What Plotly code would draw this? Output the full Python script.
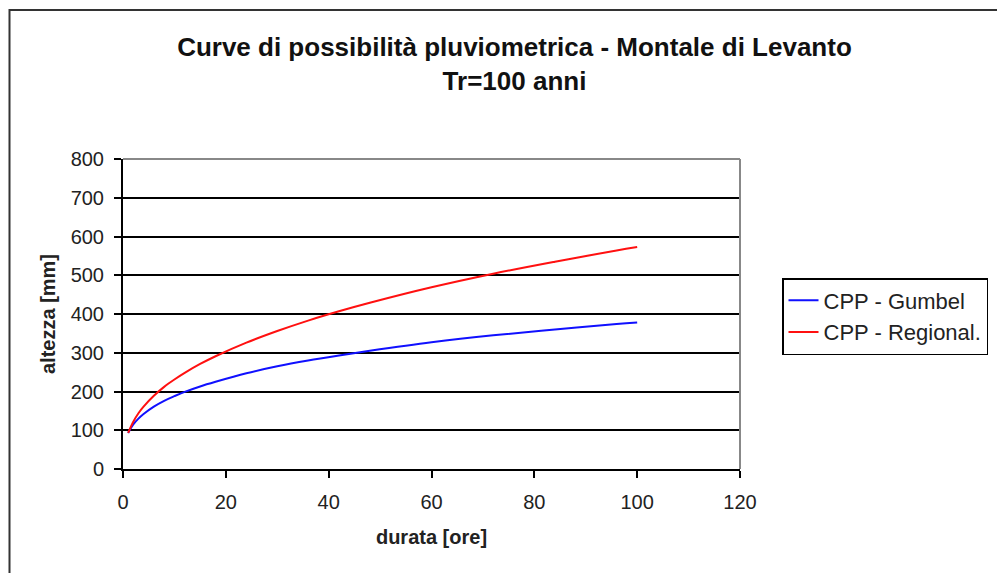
import plotly.graph_objects as go

# durations (hours)
durata = [1, 2, 3, 4, 6, 8, 10, 12, 15, 18, 24, 30, 36, 42, 48, 60, 72, 84, 96, 100]
# heights (mm)
gumbel = [93, 115, 130, 142, 161, 176, 188, 199, 213, 225, 247, 265, 280, 293, 305, 327, 345, 360, 374, 378]
regional = [93, 122, 144, 161, 189, 212, 231, 248, 271, 291, 326, 356, 383, 407, 429, 469, 504, 535, 564, 573]

series_names = ["CPP - Gumbel", "CPP - Regional."]
series_colors = ["#1010ff", "#ff1010"]

x_ticks = [0, 20, 40, 60, 80, 100, 120]
y_ticks = [0, 100, 200, 300, 400, 500, 600, 700, 800]

FONT = "Liberation Sans, Arial, sans-serif"

fig = go.Figure()
for name, vals, col in zip(series_names, [gumbel, regional], series_colors):
    fig.add_trace(go.Scatter(x=durata, y=vals, mode="lines", name=name,
                             line=dict(color=col, width=2, shape="spline")))

# page has an 8px body margin; figure sized to fit the window
W, H = 997, 565
L, T = 115, 151
R = W - 732
B = H - 461
pw, ph = W - L - R, H - T - B

def px_x(p):
    return (p - L) / pw

def px_y(p):
    return (H - B - p) / ph

fig.update_layout(
    width=W, height=H,
    margin=dict(l=L, r=R, t=T, b=B),
    paper_bgcolor="white", plot_bgcolor="white",
    font=dict(family=FONT, color="#222222", size=20),
    title=dict(text="Curve di possibilità pluviometrica - Montale di Levanto<br>Tr=100 anni",
               x=0.508, xref="container", xanchor="center",
               y=1 - 48 / H, yref="container", yanchor="top",
               font=dict(size=26, color="#111111", family=FONT, weight="bold")),
    xaxis=dict(range=[0, 120], tickvals=x_ticks, showgrid=False, zeroline=False,
               showline=True, linecolor="black", linewidth=2,
               ticks="outside", ticklen=7, tickcolor="black", tickwidth=2,
               ticklabelstandoff=7,
               tickfont=dict(size=20),
               title=dict(text="<b>durata [ore]</b>", font=dict(size=20), standoff=18)),
    yaxis=dict(range=[0, 800], tickvals=y_ticks, showgrid=True, gridcolor="black", gridwidth=2,
               zeroline=False, showline=True, linecolor="black", linewidth=2,
               ticks="outside", ticklen=7, tickcolor="black", tickwidth=2,
               ticklabelstandoff=6,
               tickfont=dict(size=20),
               title=dict(text="<b>altezza [mm]</b>", font=dict(size=20), standoff=10)),
    legend=dict(x=px_x(774), y=px_y(270), xanchor="left", yanchor="top",
                bordercolor="black", borderwidth=1.5, bgcolor="white",
                font=dict(size=22), tracegroupgap=0, itemwidth=30),
    showlegend=True,
)

# plot area frame (grey top/right)
fig.add_shape(type="line", xref="paper", yref="paper", x0=0, x1=1, y0=1, y1=1,
              line=dict(color="#888888", width=2))
fig.add_shape(type="line", xref="paper", yref="paper", x0=1, x1=1, y0=0, y1=1,
              line=dict(color="#888888", width=2))
# outer chart border
fig.add_shape(type="rect", xref="paper", yref="paper",
              x0=px_x(1.5), x1=px_x(1010), y0=px_y(580), y1=px_y(2),
              line=dict(color="#333333", width=2))

fig.write_html("out.html")
